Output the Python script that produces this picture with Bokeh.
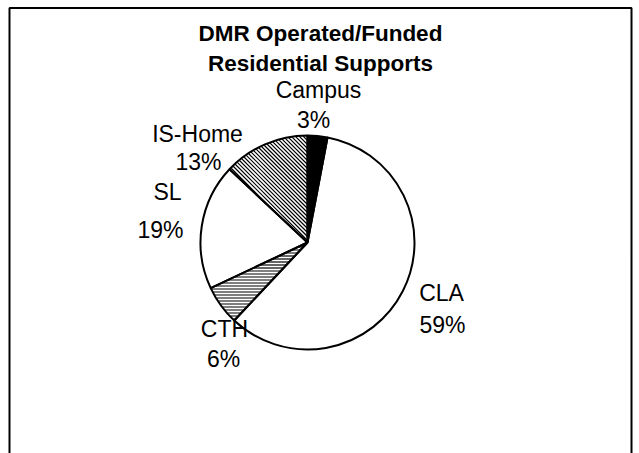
import math
from bokeh.plotting import figure
from bokeh.models import Range1d, ColumnDataSource
from bokeh.core.properties import value
from bokeh.embed import file_html
from bokeh.resources import INLINE

# ---- data ----
categories = ["Campus", "CLA", "CTH", "SL", "IS-Home"]
shares = [3, 59, 6, 19, 13]
title_lines = ["DMR Operated/Funded", "Residential Supports"]

# ---- styles / layout ----
fills = ["black", "white", "white", "white", "white"]
hatch_kind = [None, None, "horizontal", None, "backslash"]
hatch_step = [0, 0, 3, 0, 4]
# label anchor positions in page pixels (name line, percent line)
name_pos = [(318, 89), (441, 292), (224, 328), (167, 191), (197, 133)]
pct_pos = [(313, 119), (442, 324), (223, 358), (160, 229), (198, 161)]
center_px = (307, 242)
radius_px = 107
FONT = "Liberation Sans"

W, H = 639, 453


def Y(sy):
    return H - sy


p = figure(width=W, height=H, output_backend="svg", toolbar_location=None,
           x_range=Range1d(0, W), y_range=Range1d(0, H),
           min_border=0)
p.axis.visible = False
p.grid.visible = False
p.outline_line_color = None
p.background_fill_color = "white"
p.border_fill_color = "white"

# frame (left, top, right)
x0, x1 = 9, 631
p.line([x0, x0, x1, x1], [Y(470), Y(7.5), Y(7.5), Y(470)], line_color="black", line_width=2)

# pie angles
total = sum(shares)
starts, ends = [], []
c = 0.0
for v in shares:
    starts.append(math.pi / 2 - 2 * math.pi * c / total)
    c += v
    ends.append(math.pi / 2 - 2 * math.pi * c / total)

cx, cy = center_px[0], Y(center_px[1])
src = ColumnDataSource(dict(
    x=[cx] * len(shares), y=[cy] * len(shares),
    start=starts, end=ends, fill=fills))
p.wedge(x="x", y="y", radius=radius_px, radius_units="screen",
        start_angle="start", end_angle="end", direction="clock",
        fill_color="fill", line_color=None, source=src)


# manual hatching, clipped to each (convex) sector
def sector_poly(a_hi, a_lo, r):
    pts = [(cx, cy)]
    n = 60
    for i in range(n + 1):
        a = a_lo + (a_hi - a_lo) * i / n
        pts.append((cx + r * math.cos(a), cy + r * math.sin(a)))
    return pts


def clip(p0, d, poly):
    tmin, tmax = 0.0, 1.0
    m = len(poly)
    for i in range(m):
        vx, vy = poly[i]
        wx, wy = poly[(i + 1) % m]
        ex, ey = wx - vx, wy - vy
        nx, ny = ey, -ex
        num = nx * (p0[0] - vx) + ny * (p0[1] - vy)
        den = nx * d[0] + ny * d[1]
        if abs(den) < 1e-12:
            if num > 0:
                return None
            continue
        t = -num / den
        if den > 0:
            tmax = min(tmax, t)
        else:
            tmin = max(tmin, t)
        if tmin >= tmax:
            return None
    return (p0[0] + tmin * d[0], p0[1] + tmin * d[1]), (p0[0] + tmax * d[0], p0[1] + tmax * d[1])


hx, hy = [], []
R = radius_px - 0.5
for i, kind in enumerate(hatch_kind):
    if kind is None:
        continue
    poly = sector_poly(starts[i], ends[i], R)
    step = hatch_step[i]
    L = 4 * radius_px
    if kind == "horizontal":
        k = -radius_px
        while k <= radius_px:
            yy = math.floor(cy + k) + 0.5
            seg = clip((cx - 2 * radius_px, yy), (L, 0), poly)
            if seg:
                hx.append([seg[0][0], seg[1][0]])
                hy.append([seg[0][1], seg[1][1]])
            k += step
    else:
        k = -2 * radius_px
        while k <= 2 * radius_px:
            base = (cx + k - 2 * radius_px, cy + 2 * radius_px)
            seg = clip(base, (L, -L), poly)
            if seg:
                hx.append([seg[0][0], seg[1][0]])
                hy.append([seg[0][1], seg[1][1]])
            k += step

p.multi_line(xs=hx, ys=hy, line_color="black", line_width=1.2)

# outlines on top
p.wedge(x="x", y="y", radius=radius_px, radius_units="screen",
        start_angle="start", end_angle="end", direction="clock",
        fill_color=None, line_color="black", line_width=2, source=src)

# labels
lab = ColumnDataSource(dict(
    x=[q[0] for q in name_pos] + [q[0] for q in pct_pos],
    y=[Y(q[1]) for q in name_pos] + [Y(q[1]) for q in pct_pos],
    t=categories + [f"{v}%" for v in shares]))
p.text(x="x", y="y", text="t", source=lab, text_font=value(FONT),
       text_font_size="23px", text_align="center", text_baseline="middle",
       text_color="black")

# title
tt = ColumnDataSource(dict(x=[320, 320], y=[Y(33), Y(63)], t=title_lines))
p.text(x="x", y="y", text="t", source=tt, text_font=value(FONT),
       text_font_size="22.5px", text_font_style="bold", text_align="center",
       text_baseline="middle", text_color="black")

open("out.html", "w").write(file_html(p, INLINE))
